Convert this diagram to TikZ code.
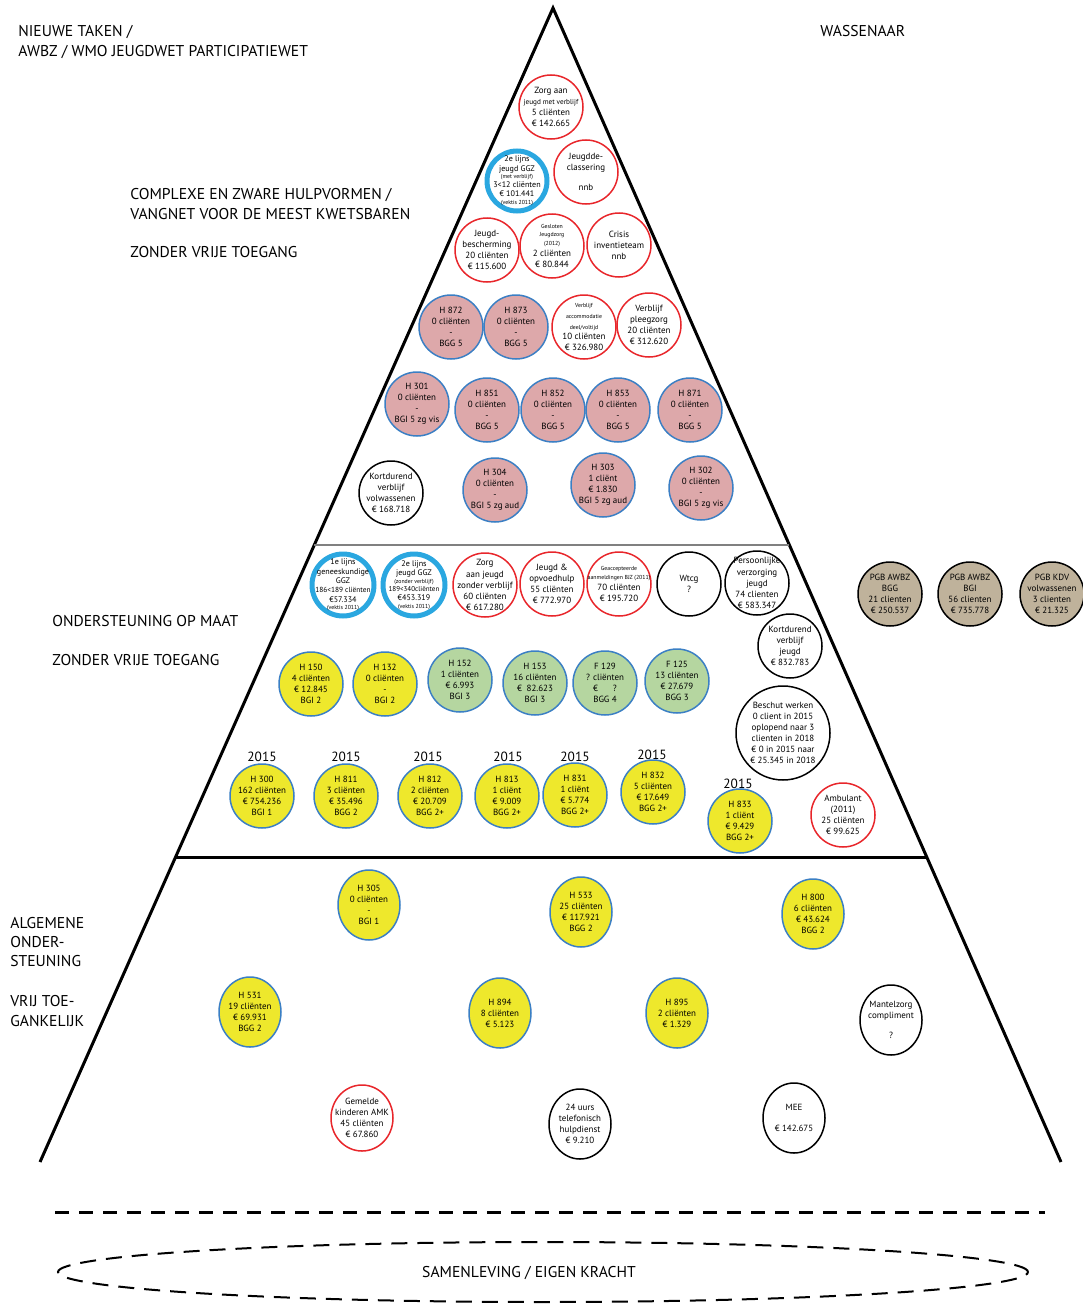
\documentclass[tikz,border=0pt]{standalone}
\usepackage{fontspec}
\setmainfont{PT Sans}
\usetikzlibrary{shapes.geometric,calc}

\definecolor{roodrand}{HTML}{E8262B}
\definecolor{blauwrand}{HTML}{3B7FC4}
\definecolor{blauwring}{HTML}{2AA7E0}
\definecolor{roze}{HTML}{DDA8AA}
\definecolor{geel}{HTML}{EEE82C}
\definecolor{groen}{HTML}{B5D6A0}
\definecolor{beige}{HTML}{BFB29B}

\newcommand{\klein}{\fontsize{3.3}{3.8}\selectfont}

\tikzset{
  rand/.style={line width=0.6mm, line join=miter},
  kop/.style={anchor=north west, align=left, inner sep=0pt, font=\fontsize{8.9}{11.3}\selectfont},
  jaar/.style={inner sep=0pt, font=\fontsize{7.6}{8}\selectfont},
  bol/.style={circle, line width=0.3mm, minimum size=12.8mm, inner sep=-3mm, align=center, font=\fontsize{5.1}{6.3}\selectfont},
  ovaal/.style={bol, ellipse, minimum width=12.4mm, minimum height=14mm},
  rood/.style={draw=roodrand, fill=white},
  zwart/.style={draw=black, fill=white},
  roos/.style={draw=blauwrand, fill=roze},
  geelb/.style={draw=blauwrand, fill=geel},
  groenb/.style={draw=blauwrand, fill=groen},
  pgb/.style={draw=black, fill=beige},
  ring/.style={draw=blauwring, fill=white, line width=1mm, minimum size=12mm, font=\fontsize{4.6}{5.3}\selectfont}
}

\begin{document}
\begin{tikzpicture}[x=0.2mm, y=-0.2mm]
\useasboundingbox (0,0) rectangle (1082,1305);

\coordinate (top) at (553,8);
\coordinate (links) at (40,1162);
\coordinate (rechts) at (1061,1162);
\draw[rand] (links) -- (top) -- (rechts);
\draw[line width=0.4mm, gray] ($(top)!0.4653!(links)$) -- ($(top)!0.4653!(rechts)$);
\draw[rand] ($(top)!0.7357!(links)$) -- ($(top)!0.7357!(rechts)$);

\coordinate (dl) at (55,1212);
\coordinate (dr) at (1045,1212);
\draw[line width=0.6mm, dash pattern=on 2.8mm off 2mm] (dl) -- (dr);
\draw[line width=0.4mm, dash pattern=on 3.2mm off 2mm] (543,1272) ellipse [x radius=97mm, y radius=6mm];
\node[inner sep=0pt, font=\fontsize{8.9}{10}\selectfont] (samenleving) at (529,1273) {SAMENLEVING / EIGEN KRACHT};

\node[kop] (nieuwe) at (18,25) {NIEUWE TAKEN /\\AWBZ / WMO JEUGDWET PARTICIPATIEWET};
\node[kop] (wassenaar) at (820,25) {WASSENAAR};
\node[kop] (complexe) at (130,188) {COMPLEXE EN ZWARE HULPVORMEN /\\VANGNET VOOR DE MEEST KWETSBAREN};
\node[kop] (zonder1) at (130,246) {ZONDER VRIJE TOEGANG};
\node[kop] (opmaat) at (52,615) {ONDERSTEUNING OP MAAT};
\node[kop] (zonder2) at (52,654) {ZONDER VRIJE TOEGANG};
\node[kop, font=\fontsize{8.9}{10.8}\selectfont] (algemene) at (10,917) {ALGEMENE\\ONDER-\\STEUNING};
\node[kop] (vrij) at (10,995) {VRIJ TOE-\\GANKELIJK};

\node[bol, rood] (zorgmet) at (551,107) {Zorg aan\\{\fontsize{4.1}{5}\selectfont jeugd met verblijf}\\5 cliënten\\€ 142.665};
\node[bol, ring] (ggzmet) at (517,181) {2e lijns\\jeugd GGZ\\[-1pt]{\klein (met verblijf)}\\[-0.5pt]3<12 cliënten\\€ 101.441\\[-0.5pt]{\klein (vektis 2011)}};
\node[bol, rood] (reclassering) at (586,172) {Jeugdde-\\classering\\[5pt]nnb};
\node[bol, rood] (bescherming) at (487,250) {Jeugd-\\bescherming\\20 cliënten\\€ 115.600};
\node[bol, rood] (gesloten) at (552,246) {{\klein Gesloten}\\[-1.5pt]{\klein Jeugdzorg}\\[-1.5pt]{\klein (2012)}\\2 cliënten\\€ 80.844};
\node[bol, rood] (crisis) at (619,245) {Crisis\\inventieteam\\nnb};

\node[bol, roos] (h872) at (451,327) {H 872\\0 cliënten\\-\\BGG 5};
\node[bol, roos] (h873) at (516,327) {H 873\\0 cliënten\\-\\BGG 5};
\node[bol, rood] (accommodatie) at (584,327) {{\klein Verblijf}\\{\klein accommodatie}\\{\klein deel/voltijd}\\[-1pt]10 cliënten\\€ 326.980};
\node[bol, rood] (pleegzorg) at (649,325) {Verblijf\\pleegzorg\\20 cliënten\\€ 312.620};

\node[bol, roos] (h301) at (417,404) {H 301\\0 cliënten\\-\\BGI 5 zg vis};
\node[bol, roos] (h851) at (487,410) {H 851\\0 cliënten\\-\\BGG 5};
\node[bol, roos] (h852) at (553,410) {H 852\\0 cliënten\\-\\BGG 5};
\node[bol, roos] (h853) at (618,410) {H 853\\0 cliënten\\-\\BGG 5};
\node[bol, roos] (h871) at (690,410) {H 871\\0 cliënten\\-\\BGG 5};

\node[bol, zwart] (kortvolw) at (391,493) {Kortdurend\\verblijf\\volwassenen\\€ 168.718};
\node[bol, roos] (h304) at (495,490) {H 304\\0 cliënten\\-\\BGI 5 zg aud};
\node[bol, roos] (h303) at (603,485) {H 303\\1 cliënt\\€ 1.830\\BGI 5 zg aud};
\node[bol, roos] (h302) at (701,488) {H 302\\0 cliënten\\-\\BGI 5 zg vis};

\node[bol, ring, minimum size=12.4mm] (ggz1) at (343,585) {1e lijns\\geneeskundige\\GGZ\\{\fontsize{4.2}{5}\selectfont 186<189 cliënten}\\€57.334\\[-1pt]{\klein (vektis 2011)}};
\node[bol, ring, minimum size=12.4mm] (ggzzonder) at (414,585) {2e lijns\\jeugd GGZ\\[-1pt]{\klein (zonder verblijf)}\\[-0.5pt]{\fontsize{4}{5}\selectfont 189<340cliënten}\\€453.319\\[-1pt]{\klein (vektis 2011)}};
\node[bol, rood] (zorgzonder) at (485,585) {Zorg\\aan jeugd\\zonder verblijf\\60 cliënten\\€ 617.280};
\node[bol, rood] (opvoedhulp) at (552,584) {Jeugd \&\\opvoedhulp\\55 cliënten\\€ 772.970};
\node[bol, rood] (bjz) at (619,584) {{\klein Geaccepteerde}\\[-1pt]{\klein aanmeldingen BJZ (2011)}\\70 cliënten\\€ 195.720};
\node[bol, zwart] (wtcg) at (689,584) {Wtcg\\?};
\node[bol, zwart] (verzorging) at (757,583) {Persoonlijke\\verzorging\\jeugd\\74 clienten\\€ 583.347};
\node[bol, zwart] (kortjeugd) at (790,646) {Kortdurend\\verblijf\\jeugd\\€ 832.783};

\node[bol, pgb] (pgbbgg) at (890,594) {PGB AWBZ\\BGG\\21 clienten\\€ 250.537};
\node[bol, pgb] (pgbbgi) at (970,594) {PGB AWBZ\\BGI\\56 clienten\\€ 735.778};
\node[bol, pgb] (pgbkdv) at (1052,594) {PGB KDV\\volwassenen\\3 clienten\\€ 21.325};

\node[bol, geelb] (h150) at (311,684) {H 150\\4 cliënten\\€ 12.845\\BGI 2};
\node[bol, geelb] (h132) at (385,684) {H 132\\0 cliënten\\-\\BGI 2};
\node[bol, groenb] (h152) at (460,680) {H 152\\1 cliënten\\€ 6.993\\BGI 3};
\node[bol, groenb] (h153) at (535,683) {H 153\\16 cliënten\\€ \ 82.623\\BGI 3};
\node[bol, groenb] (f129) at (605,683) {F 129\\? cliënten\\€\hspace{3mm}?\\BGG 4};
\node[bol, groenb] (f125) at (677,681) {F 125\\13 cliënten\\€ 27.679\\BGG 3};
\node[bol, zwart, minimum size=18.8mm] (beschut) at (783,733) {Beschut werken\\0 client in 2015\\oplopend naar 3\\clienten in 2018\\€ 0 in 2015 naar\\€ 25.345 in 2018};

\node[bol, geelb] (h300) at (262,796) {H 300\\162 cliënten\\€ 754.236\\BGI 1};
\node[bol, geelb] (h811) at (346,796) {H 811\\3 cliënten\\€ 35.496\\BGG 2};
\node[bol, geelb] (h812) at (430,796) {H 812\\2 cliënten\\€ 20.709\\BGG 2+};
\node[bol, geelb] (h813) at (507,796) {H 813\\1 cliënt\\€ 9.009\\BGG 2+};
\node[bol, geelb] (h831) at (575,795) {H 831\\1 cliënt\\€ 5.774\\BGG 2+};
\node[bol, geelb] (h832) at (653,792) {H 832\\5 cliënten\\€ 17.649\\BGG 2+};
\node[bol, geelb] (h833) at (740,821) {H 833\\1 cliënt\\€ 9.429\\BGG 2+};
\node[bol, rood] (ambulant) at (843,815) {Ambulant\\(2011)\\25 cliënten\\€ 99.625};

\node[jaar] (j300) at (262,757) {2015};
\node[jaar] (j811) at (346,757) {2015};
\node[jaar] (j812) at (428,757) {2015};
\node[jaar] (j813) at (508,757) {2015};
\node[jaar] (j831) at (575,757) {2015};
\node[jaar] (j832) at (652,755) {2015};
\node[jaar] (j833) at (738,784) {2015};

\node[ovaal, geelb] (h305) at (369,905) {H 305\\0 cliënten\\-\\BGI 1};
\node[ovaal, geelb] (h533) at (581,912) {H 533\\25 cliënten\\€ 117.921\\BGG 2};
\node[ovaal, geelb] (h800) at (813,914) {H 800\\6 cliënten\\€ 43.624\\BGG 2};
\node[ovaal, geelb] (h531) at (250,1012) {H 531\\19 cliënten\\€ 69.931\\BGG 2};
\node[ovaal, geelb] (h894) at (500,1013) {H 894\\8 cliënten\\€ 5.123};
\node[ovaal, geelb] (h895) at (677,1013) {H 895\\2 cliënten\\€ 1.329};
\node[ovaal, zwart] (mantelzorg) at (891,1020) {Mantelzorg\\compliment\\[5pt]?};
\node[ovaal, rood, minimum height=13.2mm] (amk) at (362,1118) {Gemelde\\kinderen AMK\\45 cliënten\\€ 67.860};
\node[ovaal, zwart] (hulpdienst) at (580,1124) {24 uurs\\telefonisch\\hulpdienst\\€ 9.210};
\node[ovaal, zwart] (mee) at (794,1118) {MEE\\[6pt]€ 142.675};

\end{tikzpicture}
\end{document}
